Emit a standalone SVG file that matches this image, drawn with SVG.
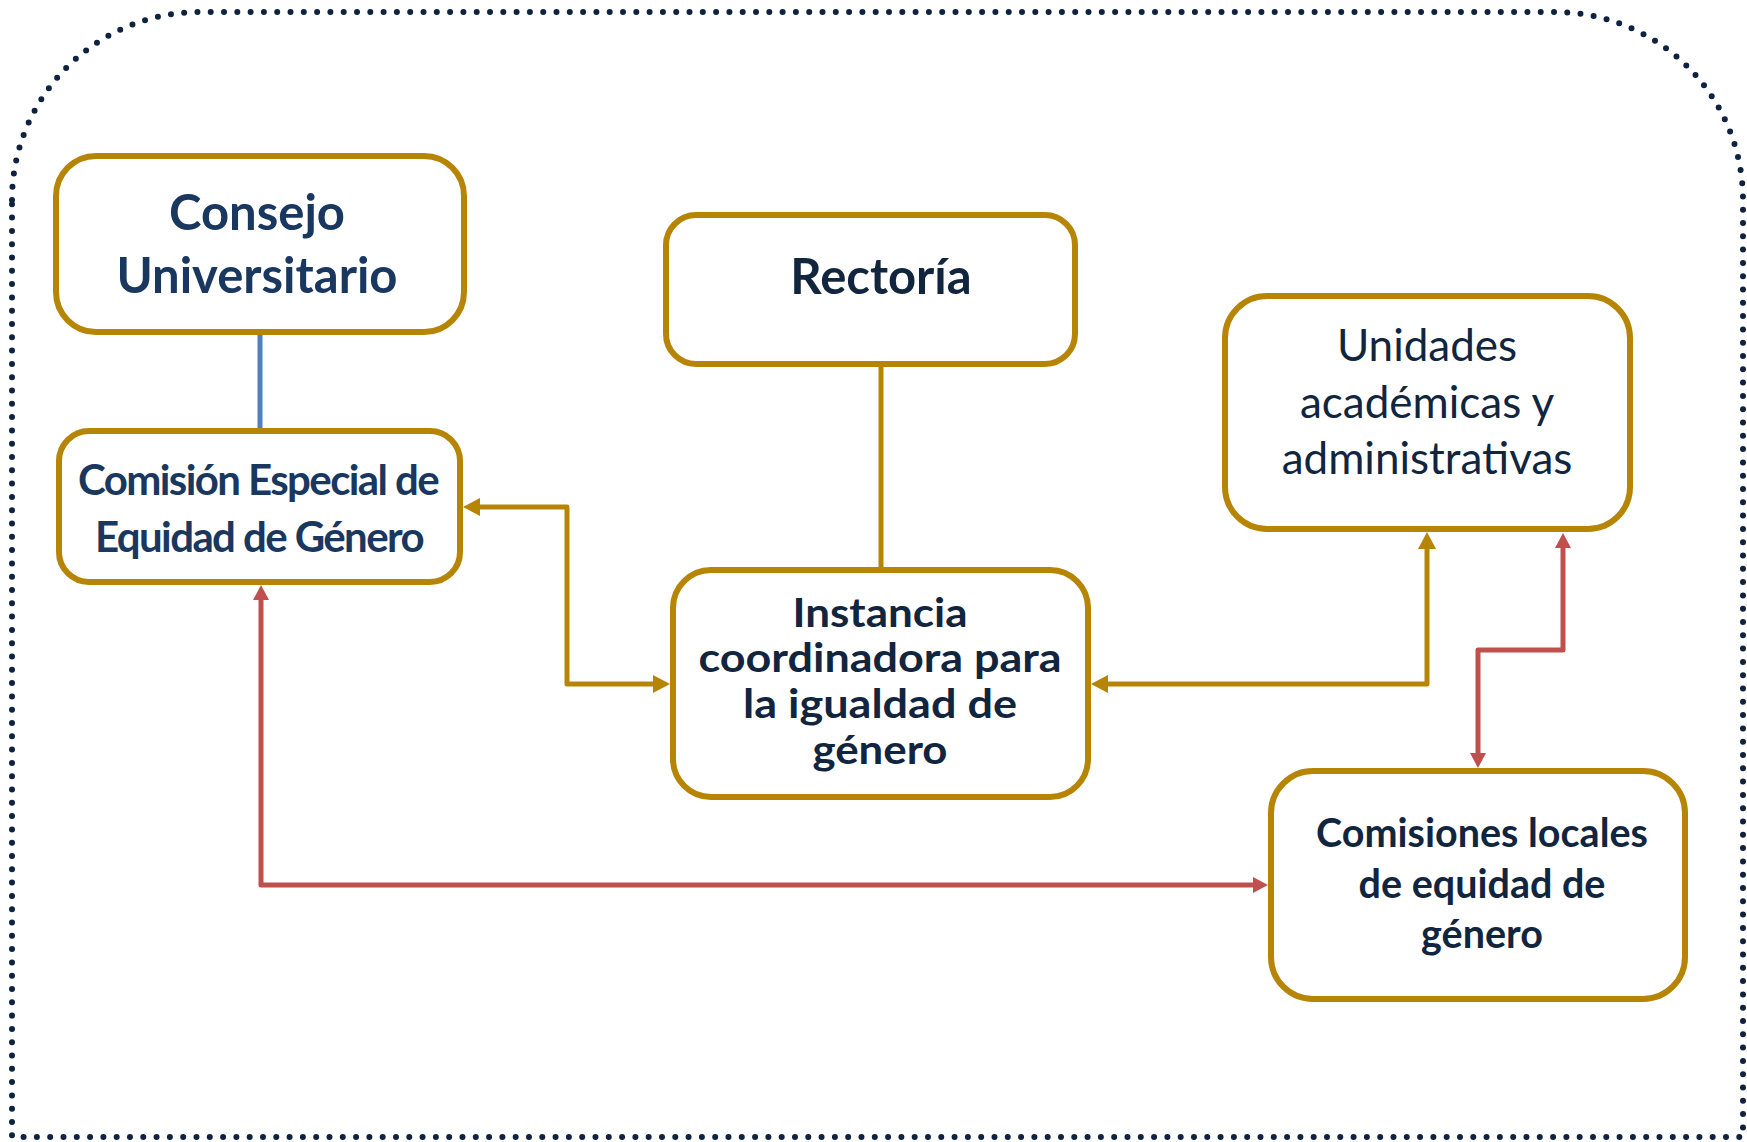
<svg xmlns="http://www.w3.org/2000/svg" width="1747" height="1142" viewBox="0 0 1747 1142">
  <style>
    .box { fill: #ffffff; stroke: #b78505; stroke-width: 6; }
    .t { font-family: Lato, "Liberation Sans", sans-serif; text-anchor: middle; }
    .b { font-weight: bold; }
    .navy { fill: #1a3760; }
    .dark { fill: #12253f; }
    .gold { fill: none; stroke: #b78505; stroke-width: 5; stroke-linejoin: round; }
    .red { fill: none; stroke: #c0504d; stroke-width: 5; stroke-linejoin: round; }
    .blue { fill: none; stroke: #4f81bd; stroke-width: 5; }
  </style>
  <defs>
    <marker id="ag" markerUnits="userSpaceOnUse" markerWidth="18" markerHeight="18" refX="0" refY="9" orient="auto-start-reverse" viewBox="0 0 18 18">
      <path d="M0,0 L17,9 L0,18 Z" fill="#b78505"/>
    </marker>
    <marker id="ar" markerUnits="userSpaceOnUse" markerWidth="16" markerHeight="16" refX="0" refY="8" orient="auto-start-reverse" viewBox="0 0 16 16">
      <path d="M0,0 L15,8 L0,16 Z" fill="#c0504d"/>
    </marker>
  </defs>

  <path id="border" d="M12,200 A188,188 0 0 1 200,12 L1555,12 A188,188 0 0 1 1743,200 L1743,1137 L12,1137 Z" fill="none" stroke="#0f2240" stroke-width="6" stroke-linecap="round" stroke-dasharray="0 13.3"/>

  <g id="connectors">
    <line class="blue" x1="260" y1="334" x2="260" y2="429"/>
    <line class="gold" x1="881" y1="366" x2="881" y2="568"/>
    <path class="gold" d="M480,507 L567,507 L567,684 L653,684" marker-start="url(#ag)" marker-end="url(#ag)"/>
    <path class="gold" d="M1108,684 L1427,684 L1427,549" marker-start="url(#ag)" marker-end="url(#ag)"/>
    <path class="red" d="M1563,548 L1563,650 L1478,650 L1478,753" marker-start="url(#ar)" marker-end="url(#ar)"/>
    <path class="red" d="M261,600 L261,885 L1253,885" marker-start="url(#ar)" marker-end="url(#ar)"/>
  </g>

  <g id="consejo">
    <rect class="box" x="56" y="156" width="408" height="176" rx="40"/>
    <text class="t b navy" font-size="49"><tspan x="257" y="230">Consejo</tspan><tspan x="257" y="293">Universitario</tspan></text>
  </g>

  <g id="comision-especial">
    <rect class="box" x="59" y="431" width="401" height="151" rx="30"/>
    <text class="t b navy" font-size="42" letter-spacing="-1.6"><tspan x="258" y="495">Comisión Especial de</tspan><tspan x="259" y="552">Equidad de Género</tspan></text>
  </g>

  <g id="rectoria">
    <rect class="box" x="666" y="215" width="409" height="149" rx="30"/>
    <text class="t b dark" font-size="49" x="881" y="294">Rectoría</text>
  </g>

  <g id="instancia">
    <rect class="box" x="673" y="570" width="415" height="227" rx="38"/>
    <text class="t b dark" font-size="41" x="880" y="627" textLength="175" lengthAdjust="spacingAndGlyphs">Instancia</text>
    <text class="t b dark" font-size="41" x="880" y="672" textLength="363" lengthAdjust="spacingAndGlyphs">coordinadora para</text>
    <text class="t b dark" font-size="41" x="880" y="718" textLength="274" lengthAdjust="spacingAndGlyphs">la igualdad de</text>
    <text class="t b dark" font-size="41" x="880" y="764" textLength="135" lengthAdjust="spacingAndGlyphs">género</text>
  </g>

  <g id="unidades">
    <rect class="box" x="1225" y="296" width="405" height="233" rx="42"/>
    <text class="t dark" font-size="44"><tspan x="1427" y="361">Unidades</tspan><tspan x="1427" y="418">académicas y</tspan><tspan x="1427" y="474">administrativas</tspan></text>
  </g>

  <g id="comisiones-locales">
    <rect class="box" x="1271" y="771" width="414" height="228" rx="42"/>
    <text class="t b dark" font-size="39.5"><tspan x="1482" y="847">Comisiones locales</tspan><tspan x="1482" y="898">de equidad de</tspan><tspan x="1482" y="948">género</tspan></text>
  </g>
</svg>
